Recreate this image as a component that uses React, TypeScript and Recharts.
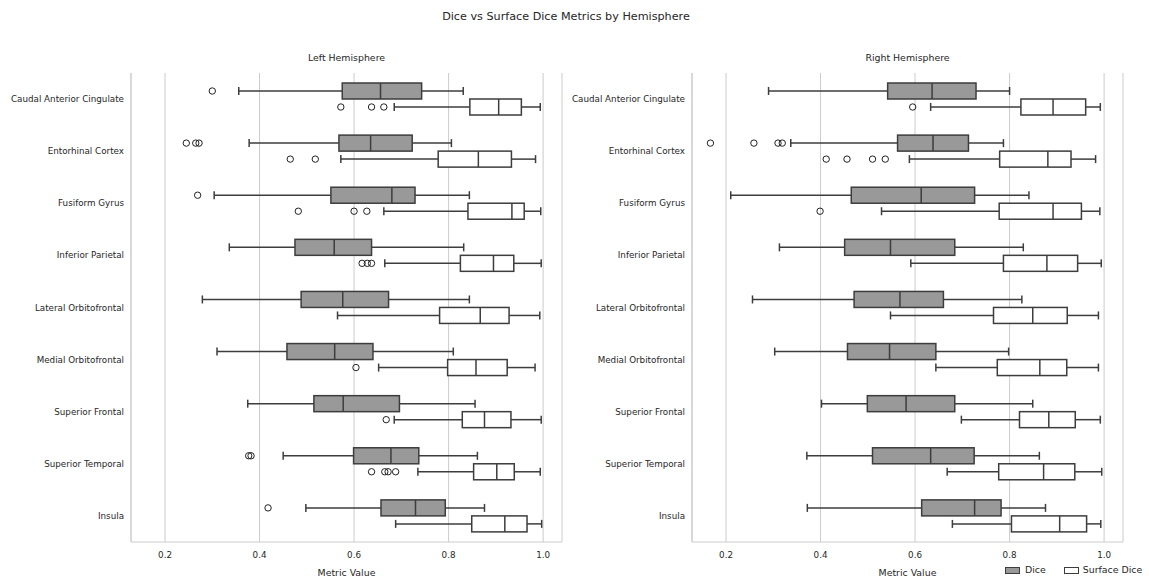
import { Bar, CartesianGrid, ComposedChart, XAxis, YAxis } from "recharts";

const regions = [
  "Caudal Anterior Cingulate",
  "Entorhinal Cortex",
  "Fusiform Gyrus",
  "Inferior Parietal",
  "Lateral Orbitofrontal",
  "Medial Orbitofrontal",
  "Superior Frontal",
  "Superior Temporal",
  "Insula",
];

// each row: [whisker low, q1, median, q3, whisker high]
const leftDice = [
  [0.356, 0.575, 0.656, 0.743, 0.831],
  [0.378, 0.568, 0.635, 0.723, 0.806],
  [0.304, 0.551, 0.68, 0.729, 0.844],
  [0.336, 0.475, 0.558, 0.637, 0.832],
  [0.279, 0.488, 0.576, 0.673, 0.844],
  [0.31, 0.458, 0.559, 0.64, 0.81],
  [0.375, 0.515, 0.577, 0.696, 0.856],
  [0.45, 0.599, 0.678, 0.737, 0.861],
  [0.498, 0.657, 0.73, 0.793, 0.876],
];
const leftDiceOutliers = [[0.3], [0.245, 0.265, 0.272], [0.269], [], [], [], [], [0.377, 0.382], [0.418]];

const leftSurface = [
  [0.685, 0.845, 0.906, 0.954, 0.994],
  [0.572, 0.778, 0.863, 0.933, 0.984],
  [0.663, 0.841, 0.934, 0.96, 0.995],
  [0.665, 0.825, 0.895, 0.938, 0.996],
  [0.565, 0.781, 0.867, 0.928, 0.993],
  [0.652, 0.798, 0.858, 0.924, 0.983],
  [0.685, 0.829, 0.876, 0.932, 0.996],
  [0.735, 0.853, 0.902, 0.939, 0.994],
  [0.688, 0.849, 0.919, 0.966, 0.997],
];
const leftSurfaceOutliers = [
  [0.572, 0.637, 0.663],
  [0.465, 0.518],
  [0.482, 0.6, 0.627],
  [0.617, 0.628, 0.637],
  [],
  [0.604],
  [0.668],
  [0.637, 0.665, 0.672, 0.688],
  [],
];

const rightDice = [
  [0.29, 0.542, 0.636, 0.729, 0.8],
  [0.337, 0.563, 0.638, 0.713, 0.787],
  [0.21, 0.465, 0.613, 0.726, 0.841],
  [0.313, 0.451, 0.548, 0.684, 0.829],
  [0.256, 0.471, 0.568, 0.66, 0.826],
  [0.303, 0.457, 0.546, 0.644, 0.798],
  [0.402, 0.499, 0.581, 0.684, 0.849],
  [0.371, 0.51, 0.633, 0.725, 0.863],
  [0.372, 0.614, 0.726, 0.782, 0.876],
];
const rightDiceOutliers = [[], [0.167, 0.259, 0.31, 0.319], [], [], [], [], [], [], []];

const rightSurface = [
  [0.633, 0.824, 0.892, 0.961, 0.992],
  [0.588, 0.779, 0.881, 0.93, 0.982],
  [0.529, 0.778, 0.892, 0.952, 0.991],
  [0.591, 0.787, 0.879, 0.944, 0.994],
  [0.548, 0.766, 0.849, 0.922, 0.988],
  [0.644, 0.774, 0.864, 0.921, 0.988],
  [0.698, 0.821, 0.883, 0.939, 0.992],
  [0.668, 0.777, 0.872, 0.938, 0.995],
  [0.679, 0.804, 0.906, 0.963, 0.993],
];
const rightSurfaceOutliers = [[0.595], [0.412, 0.456, 0.51, 0.537], [0.399], [], [], [], [], [], []];

const xTicks = [0.2, 0.4, 0.6, 0.8, 1.0];

const LINE = "#3d3d3d";
const TEXT = "#262626";
const GRID = "#cccccc";
const FONT = "'DejaVu Sans', sans-serif";

type Row = {
  region: string;
  dice: number[];
  diceOut: number[];
  surface: number[];
  surfaceOut: number[];
};

function buildRows(dice: number[][], diceOut: number[][], surf: number[][], surfOut: number[][]): Row[] {
  return regions.map((region, i) => ({
    region,
    dice: dice[i],
    diceOut: diceOut[i],
    surface: surf[i],
    surfaceOut: surfOut[i],
  }));
}

const leftRows = buildRows(leftDice, leftDiceOutliers, leftSurface, leftSurfaceOutliers);
const rightRows = buildRows(rightDice, rightDiceOutliers, rightSurface, rightSurfaceOutliers);

// bar spans whisker low..high; everything else is placed along that span
function boxShape(key: "dice" | "surface", fill: string) {
  return (props: any) => {
    const { x, y, width, height, payload } = props;
    const s: number[] = payload[key];
    const out: number[] = payload[key + "Out"];
    const px = (v: number) => x + ((v - s[0]) / (s[4] - s[0])) * width;
    const cy = y + height / 2;
    const cap = height / 4;
    return (
      <g>
        <line x1={px(s[0])} x2={px(s[1])} y1={cy} y2={cy} stroke={LINE} strokeWidth={1.5} />
        <line x1={px(s[3])} x2={px(s[4])} y1={cy} y2={cy} stroke={LINE} strokeWidth={1.5} />
        <line x1={px(s[0])} x2={px(s[0])} y1={cy - cap} y2={cy + cap} stroke={LINE} strokeWidth={1.5} />
        <line x1={px(s[4])} x2={px(s[4])} y1={cy - cap} y2={cy + cap} stroke={LINE} strokeWidth={1.5} />
        <rect x={px(s[1])} y={y} width={px(s[3]) - px(s[1])} height={height} fill={fill} stroke={LINE} strokeWidth={1.5} />
        <line x1={px(s[2])} x2={px(s[2])} y1={y} y2={y + height} stroke={LINE} strokeWidth={1.5} />
        {out.map((v, i) => (
          <circle key={i} cx={px(v)} cy={cy} r={3.2} fill="none" stroke="#222222" strokeWidth={1} />
        ))}
      </g>
    );
  };
}

function RegionTick({ x, y, payload }: any) {
  return (
    <text x={x} y={y} dy="0.355em" textAnchor="end" fontSize={8.75} fill={TEXT} fontFamily={FONT}>
      {payload.value}
    </text>
  );
}

function Panel({ title, rows, left }: { title: string; rows: Row[]; left: number }) {
  return (
    <div style={{ position: "absolute", left, top: 0, width: 576, height: 581 }}>
      <ComposedChart
        width={576}
        height={581}
        data={rows}
        layout="vertical"
        margin={{ top: 73, right: 14, bottom: 0, left: 5 }}
        barGap={0}
        barSize={16}
      >
        <CartesianGrid horizontal={false} stroke={GRID} />
        <XAxis
          type="number"
          domain={[0.128, 1.04]}
          ticks={xTicks}
          allowDataOverflow
          tickFormatter={(v: number) => v.toFixed(1)}
          tickLine={false}
          tickSize={0}
          tickMargin={10}
          height={39}
          axisLine={{ stroke: GRID }}
          tick={{ fontSize: 8.75, fill: TEXT, fontFamily: FONT }}
        />
        <YAxis
          type="category"
          dataKey="region"
          width={126}
          interval={0}
          tickLine={false}
          tickSize={0}
          tickMargin={7}
          axisLine={{ stroke: GRID }}
          tick={<RegionTick />}
        />
        <Bar
          dataKey={(r: Row) => [r.dice[0], r.dice[4]]}
          barSize={16}
          shape={boxShape("dice", "#999999")}
          isAnimationActive={false}
        />
        <Bar
          dataKey={(r: Row) => [r.surface[0], r.surface[4]]}
          barSize={16}
          shape={boxShape("surface", "#ffffff")}
          isAnimationActive={false}
        />
      </ComposedChart>
      <div style={{ position: "absolute", left: 131, width: 431, top: 52, textAlign: "center", fontSize: 9.4, lineHeight: "12px", color: TEXT }}>
        {title}
      </div>
      <div style={{ position: "absolute", left: 131, width: 431, top: 567, textAlign: "center", fontSize: 9.4, lineHeight: "12px", color: TEXT }}>
        Metric Value
      </div>
    </div>
  );
}

export default function App() {
  return (
    <div style={{ position: "relative", width: 1149, height: 581, background: "#fff", fontFamily: FONT, overflow: "hidden" }}>
      <style>{"body{margin:0}"}</style>
      <div style={{ position: "absolute", left: 366, width: 400, top: 10, textAlign: "center", fontSize: 11.2, lineHeight: "14px", color: TEXT }}>
        Dice vs Surface Dice Metrics by Hemisphere
      </div>
      <Panel title="Left Hemisphere" rows={leftRows} left={0} />
      <Panel title="Right Hemisphere" rows={rightRows} left={561} />
      <div style={{ position: "absolute", left: 1005, top: 564, display: "flex", alignItems: "center", fontSize: 9.4, lineHeight: "12px", color: TEXT }}>
        <span style={{ display: "inline-block", width: 13, height: 5, background: "#999999", border: `1px solid ${LINE}` }} />
        <span style={{ marginLeft: 5 }}>Dice</span>
        <span style={{ display: "inline-block", width: 13, height: 5, background: "#fff", border: `1px solid ${LINE}`, marginLeft: 18 }} />
        <span style={{ marginLeft: 4 }}>Surface Dice</span>
      </div>
    </div>
  );
}
